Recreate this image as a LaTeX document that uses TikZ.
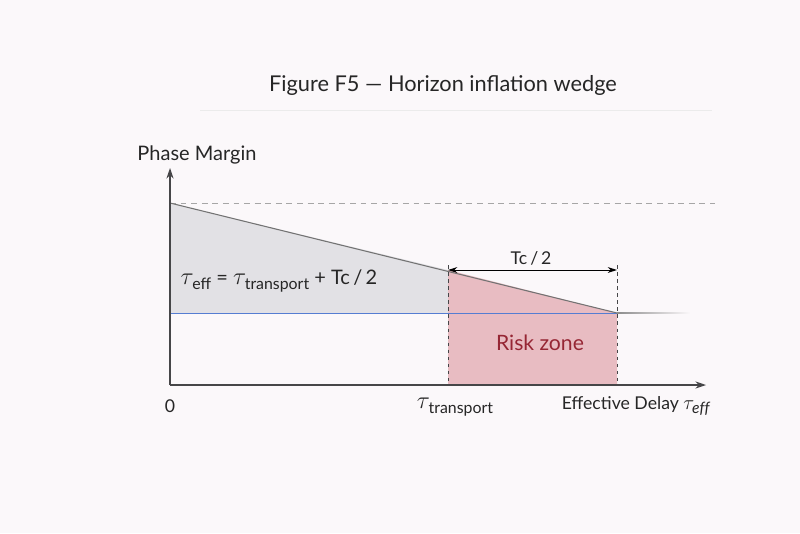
\documentclass[tikz,border=0pt]{standalone}
\usepackage{amsmath}
\usepackage{fontspec}
\setmainfont{Lato}
\usetikzlibrary{arrows.meta}

\definecolor{bgpaper}{RGB}{251,248,250}
\definecolor{axisgray}{RGB}{70,70,72}
\definecolor{wedgegray}{RGB}{226,225,229}
\definecolor{riskpink}{RGB}{232,188,194}
\definecolor{riskred}{RGB}{150,38,52}
\definecolor{baseblue}{RGB}{85,125,210}

% big tau with a lowered text subscript
\newcommand{\tausym}[1][22]{{\fontsize{#1}{#1}\selectfont$\tau$}}
\newcommand{\tsub}[1]{\kern-1.2pt\raisebox{-0.55ex}{\fontsize{13.5}{14}\selectfont #1}}

\begin{document}
\begin{tikzpicture}[x=0.85pt, y=-0.85pt,
    axis/.style={draw=axisgray, line width=0.9pt, -{Stealth[length=9pt, width=6pt]}},
    guide/.style={draw=axisgray, dashed, line width=0.6pt},
    ref/.style={draw=black!35, dash pattern=on 5pt off 4pt, line width=0.6pt},
    span/.style={draw=black, line width=0.8pt, {Stealth[length=8pt, width=5pt]}-{Stealth[length=8pt, width=5pt]}},
    lbl/.style={font=\fontsize{15}{17}\selectfont, text=black!85, inner sep=1pt},
    ttl/.style={font=\fontsize{18.5}{22}\selectfont, text=black!85}
]
% canvas
\fill[bgpaper] (0,0) rectangle (800,533);
\useasboundingbox (0,0) rectangle (800,533);

% title
\node[ttl] (title) at (443,85) {Figure F5 --- Horizon inflation wedge};
\draw[black!8, line width=0.5pt] (200,110) -- (712,110);

% key points
\coordinate (O) at (170,385);
\coordinate (ytip) at (170,168);
\coordinate (xtip) at (706,385);
\coordinate (top) at (170,203);
\coordinate (mid) at (448,270);
\coordinate (end) at (617,313);
\coordinate (base) at (170,313);

% fills
\fill[wedgegray] (top) -- (mid) -- (448,313) -- (base) -- cycle;
\fill[riskpink] (mid) -- (end) -- (617,385) -- (448,385) -- cycle;

% reference lines
\draw[ref] (top) -- (715,203);
\draw[baseblue, line width=0.7pt] (base) -- (end);
\shade[left color=black!45, right color=bgpaper] (617,312.4) rectangle (690,313.6);
\draw[black!55, line width=0.9pt] (top) -- (end);
\draw[guide] (448,265) -- (448,385);
\draw[guide] (617,265) -- (617,385);

% axes
\draw[axis] (O) -- (ytip);
\draw[axis] (O) -- (xtip);

% span
\coordinate (spanL) at (448,270);
\coordinate (spanR) at (617,270);
\draw[span] (spanL) -- (spanR);
\node[lbl] (half) at (531,258) {Tc\,/\,2};

% labels
\node[lbl, font=\fontsize{17}{19}\selectfont] (ylab) at (197,155) {Phase Margin};
\node[lbl, font=\fontsize{17}{19}\selectfont] (eq) at (279,281)
  {\tausym\tsub{eff} = \tausym\tsub{transport} + Tc\,/\,2};
\node[lbl, text=riskred, font=\fontsize{18}{20}\selectfont] (risk) at (540,343) {Risk zone};
\node[lbl] (zero) at (170,406) {0};
\node[lbl] (ttr) at (455,407) {\tausym\tsub{transport}};
\node[lbl] (xlab) at (636,406) {Effective Delay {\fontsize{19}{19}\selectfont$\tau_{\mathit{eff}}$}};
\end{tikzpicture}
\end{document}
